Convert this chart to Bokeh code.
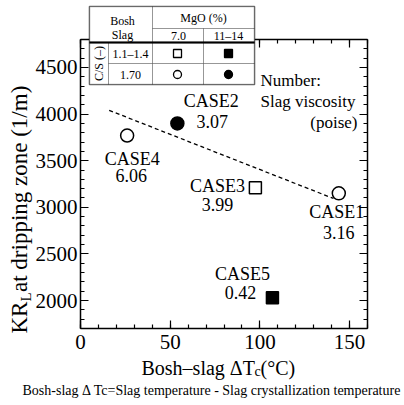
import math
from bokeh.plotting import figure
from bokeh.models import (LinearAxis, SingleIntervalTicker, Range1d, Label,
                          BoxAnnotation, ColumnDataSource)
from bokeh.embed import file_html
from bokeh.resources import INLINE
from bokeh.core.properties import value

# ---------------- data ----------------
cases = ["CASE1", "CASE2", "CASE3", "CASE4", "CASE5"]
delta_tc = [144, 54, 97.5, 26, 107]          # Bosh-slag dTc (degC)
kr_l = [3150, 3900, 3210, 3770, 2030]        # KR_L at dripping zone (1/m)
viscosity = ["3.16", "3.07", "3.99", "6.06", "0.42"]   # slag viscosity (poise)
cs_ratio = ["1.70", "1.70", "1.1–1.4", "1.70", "1.1–1.4"]
mgo = ["7.0", "11–14", "7.0", "7.0", "11–14"]

trend_x = [16, 141]
trend_y = [4040, 3095]

x_bounds = (0, 160)
y_bounds = (1700, 4800)
x_tick_step = 50
y_tick_step = 500

# label offsets (pixels) for case names / viscosity numbers
name_dx = [-2, 34, -38, 5, -30]
name_dy = [19, -22, -2, 23, -24]
num_dx = [0, 35, -38, 4, -32]
num_dy = [39, -2, 17, 40, -5]

# ---------------- layout ----------------
W, H = 404, 405
# pixel box of the plotted area inside the canvas
FL, FR, FT, FB = 80, 367, 39, 328
SERIF = "Liberation Serif"

xs = (x_bounds[1] - x_bounds[0]) / (FR - FL)
ys = (y_bounds[1] - y_bounds[0]) / (FB - FT)
x_range = Range1d(x_bounds[0] - FL * xs, x_bounds[1] + (W - FR) * xs)
y_range = Range1d(y_bounds[0] - (H - FB) * ys, y_bounds[1] + FT * ys)

p = figure(width=W, height=H, output_backend="svg", toolbar_location=None,
           x_range=x_range, y_range=y_range,
           min_border=0, min_border_left=0, min_border_right=0,
           min_border_top=0, min_border_bottom=0,
           x_axis_type=None, y_axis_type=None)
p.outline_line_color = None
p.background_fill_color = "white"
p.border_fill_color = "white"


def style_axis(ax, labels=True):
    ax.axis_line_width = 1.5
    ax.axis_line_color = "black"
    ax.major_tick_in = 8
    ax.major_tick_out = 0
    ax.minor_tick_in = 4
    ax.minor_tick_out = 0
    ax.major_tick_line_width = 1.2
    ax.minor_tick_line_width = 1.2
    ax.major_tick_line_color = "black"
    ax.minor_tick_line_color = "black"
    ax.major_label_text_font = SERIF
    ax.major_label_text_font_size = "21px"
    ax.major_label_text_color = "black" if labels else None


xt = SingleIntervalTicker(interval=x_tick_step, num_minor_ticks=5)
yt = SingleIntervalTicker(interval=y_tick_step, num_minor_ticks=5)

xb = LinearAxis(ticker=xt, fixed_location=y_bounds[0], bounds=x_bounds)
style_axis(xb); xb.major_label_standoff = 6
yl = LinearAxis(ticker=yt, fixed_location=x_bounds[0], bounds=y_bounds)
style_axis(yl); yl.major_label_standoff = 3
xa = LinearAxis(ticker=xt, fixed_location=y_bounds[1], bounds=x_bounds)
style_axis(xa, False)
yr = LinearAxis(ticker=yt, fixed_location=x_bounds[1], bounds=y_bounds)
style_axis(yr, False)
p.add_layout(xb, "below")
p.add_layout(yl, "left")
p.add_layout(xa, "above")
p.add_layout(yr, "right")

# ---------------- trend line ----------------
p.line(trend_x, trend_y, line_color="black", line_width=1.3, line_dash="4 3")

# ---------------- markers ----------------
fill = ["black" if m == "11–14" else "white" for m in mgo]
is_sq = [c == "1.1–1.4" for c in cs_ratio]
sq = ColumnDataSource(dict(x=[x for x, s in zip(delta_tc, is_sq) if s],
                           y=[y for y, s in zip(kr_l, is_sq) if s],
                           f=[f for f, s in zip(fill, is_sq) if s]))
ci = ColumnDataSource(dict(x=[x for x, s in zip(delta_tc, is_sq) if not s],
                           y=[y for y, s in zip(kr_l, is_sq) if not s],
                           f=[f for f, s in zip(fill, is_sq) if not s]))
p.scatter("x", "y", source=sq, marker="square", size=12, fill_color="f",
          line_color="black", line_width=1.5)
p.scatter("x", "y", source=ci, marker="circle", size=13, fill_color="f",
          line_color="black", line_width=1.5)

# ---------------- case labels ----------------
lab = ColumnDataSource(dict(x=delta_tc, y=kr_l, t=cases, dx=name_dx, dy=name_dy))
num = ColumnDataSource(dict(x=delta_tc, y=kr_l, t=viscosity, dx=num_dx, dy=num_dy))
for src in (lab, num):
    p.text("x", "y", text="t", source=src, x_offset="dx", y_offset="dy",
           text_font=value(SERIF), text_font_size="18px", text_color="black",
           text_align="center", text_baseline="middle")


def sc(cx, cy):
    return cx, H - cy


def add_label(text, cx, cy, size, align="left", baseline="middle", angle=0.0, font=SERIF):
    sx, sy = sc(cx, cy)
    p.add_layout(Label(x=sx, y=sy, x_units="screen", y_units="screen", text=text,
                       text_font=font, text_font_size=size, text_color="black",
                       text_align=align, text_baseline=baseline, angle=angle))


# note
add_label("Number:", 260, 80, "17px")
add_label("Slag viscosity", 260, 101, "17px")
add_label("(poise)", 357, 122, "17px", align="right")

# ---------------- table ----------------
def box(x0, y0, x1, y1, lw=1.0, fill="white"):
    l, t = sc(x0, y0)
    r, b = sc(x1, y1)
    p.add_layout(BoxAnnotation(left=l, right=r, top=t, bottom=b,
                               left_units="screen", right_units="screen",
                               top_units="screen", bottom_units="screen",
                               fill_color=fill, fill_alpha=1.0,
                               line_color="black", line_width=lw))

TX = [89, 108, 152, 203, 254]
TY = [6, 28, 42, 63, 84]
box(TX[0], TY[0], TX[4], TY[4], lw=1.6)
box(TX[0], TY[0], TX[2], TY[2])
box(TX[2], TY[0], TX[4], TY[1])
box(TX[2], TY[1], TX[3], TY[2])
box(TX[3], TY[1], TX[4], TY[2])
box(TX[0], TY[2], TX[1], TY[4])
for i in (1, 2, 3):
    for j in (2, 3):
        box(TX[i], TY[j], TX[i + 1], TY[j + 1])
box(TX[0], TY[2] - 1, TX[4], TY[2] + 1, lw=0.5, fill="black")
box(TX[0], TY[0], TX[4], TY[4], lw=1.6, fill=None)

add_label("Bosh", 122, 20, "12px", align="center")
add_label("Slag", 122, 34, "12px", align="center")
add_label("MgO (%)", 203, 17, "12px", align="center")
add_label("7.0", 178, 35, "12px", align="center")
add_label("11–14", 228, 35, "12px", align="center")
add_label("C/S (–)", 98, 63, "12px", align="center", angle=math.pi / 2)
add_label("1.1–1.4", 130, 53, "12px", align="center")
add_label("1.70", 130, 74, "12px", align="center")


def to_data(cx, cy):
    return (x_range.start + cx * xs, y_range.end - cy * ys)


leg_sq = [to_data(177, 53), to_data(228, 53)]
leg_ci = [to_data(177, 74), to_data(228, 74)]
r1 = p.scatter([a for a, b in leg_sq], [b for a, b in leg_sq], marker="square", size=8,
               fill_color=["white", "black"], line_color="black", line_width=1.3)
r2 = p.scatter([a for a, b in leg_ci], [b for a, b in leg_ci], marker="circle", size=8,
               fill_color=["white", "black"], line_color="black", line_width=1.3)
r1.level = "overlay"
r2.level = "overlay"

# ---------------- axis titles (composed for subscripts) ----------------
yx = 19
add_label("KR", yx, 333, "23px", align="left", angle=math.pi / 2)
add_label("L", yx + 6, 333 - 32, "15px", align="left", angle=math.pi / 2)
add_label(" at dripping zone (1/m)", yx, 333 - 41.5, "23px", align="left", angle=math.pi / 2)

add_label("Bosh–slag ΔT", 141, 367, "20px", baseline="alphabetic")
add_label("c", 254, 371, "14px", baseline="alphabetic")
add_label("(°C)", 260, 367, "20px", baseline="alphabetic")

add_label("Bosh-slag  Δ Tc=Slag temperature - Slag crystallization temperature",
          22, 390, "14px")

open("out.html", "w").write(file_html(p, INLINE))
